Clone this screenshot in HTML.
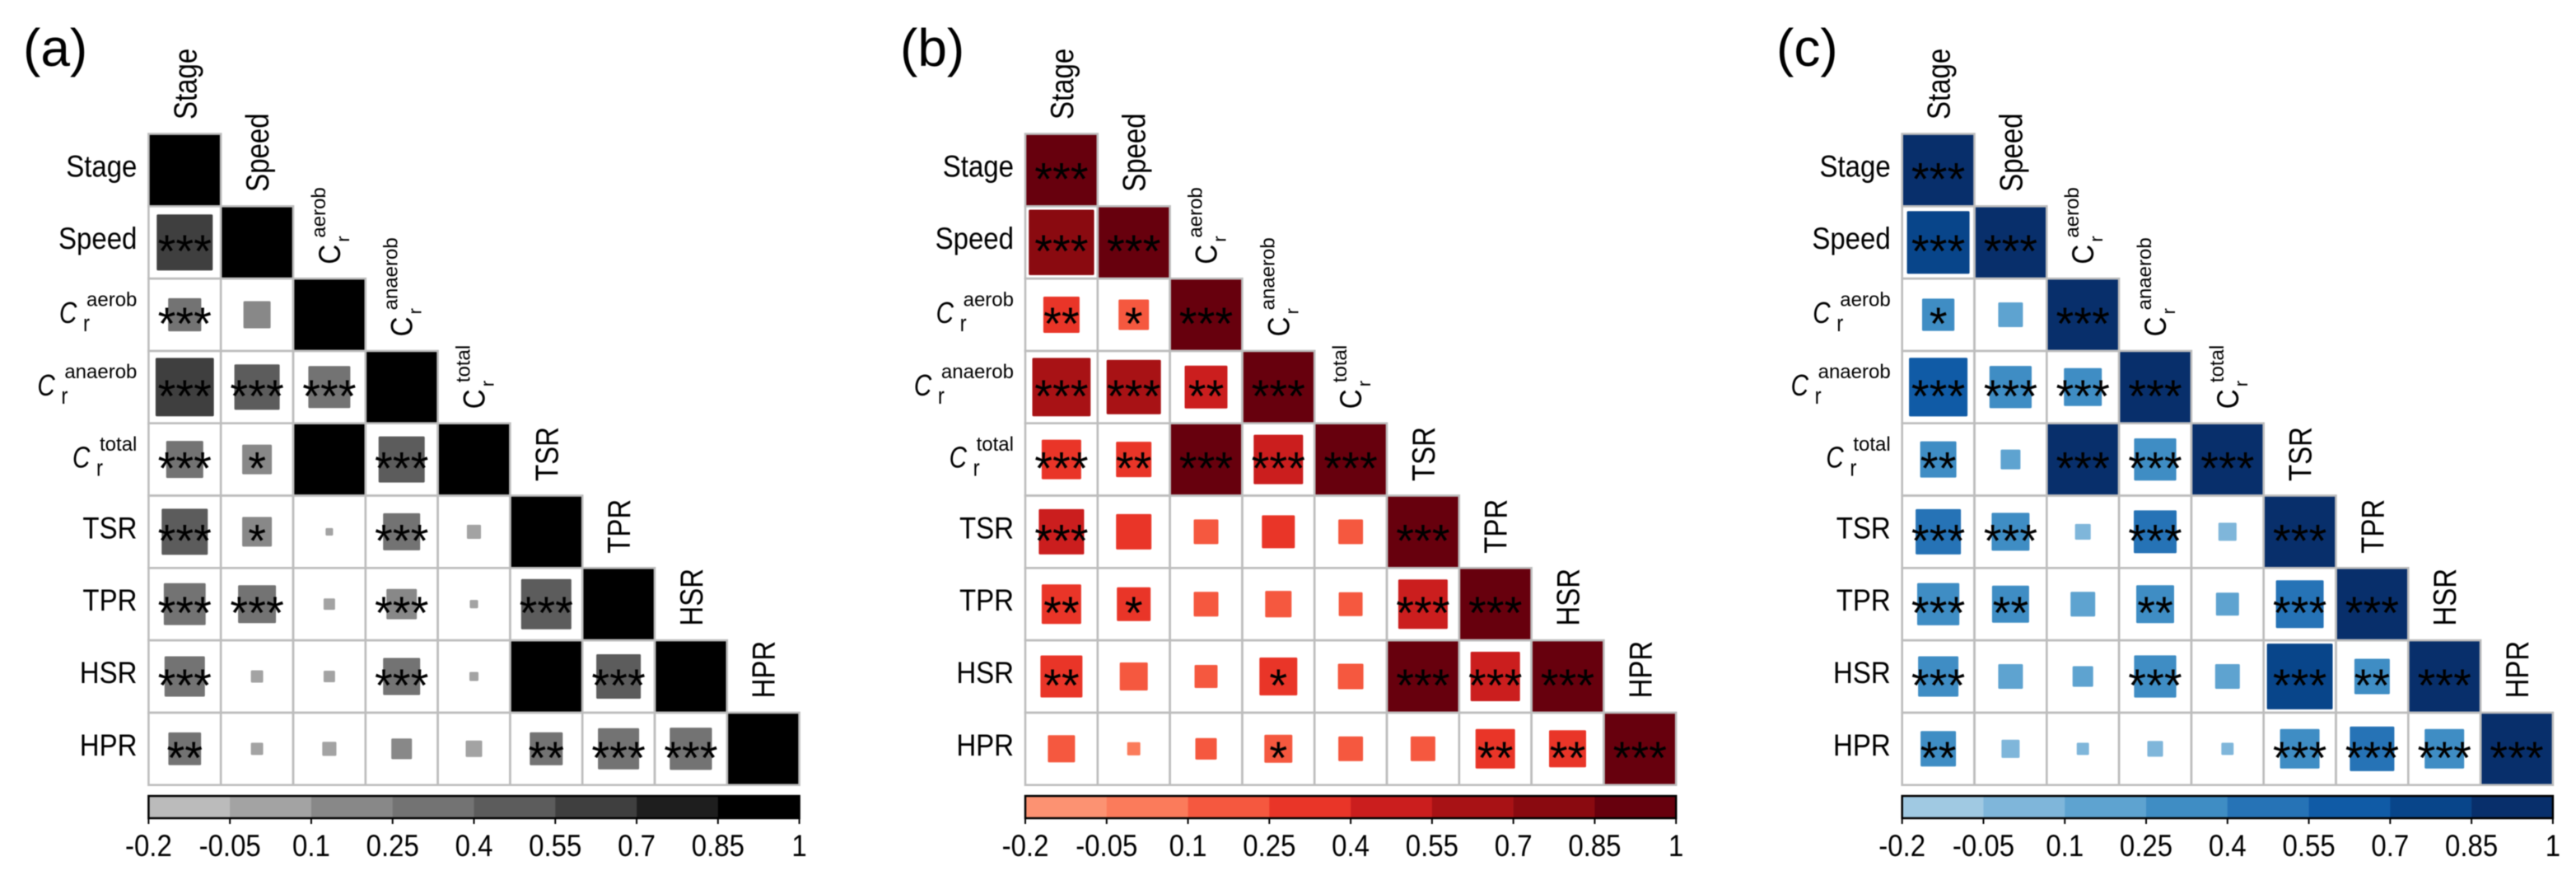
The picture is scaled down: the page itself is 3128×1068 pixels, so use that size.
<!DOCTYPE html>
<html lang="en">
<head>
<meta charset="utf-8">
<title>Correlation matrices</title>
<style>
html,body{margin:0;padding:0;background:#fff;}
#figure{display:block;filter:blur(0.5px);}
text{font-family:"Liberation Sans",Arial,sans-serif;fill:#000;}
</style>
</head>
<body>
<svg id="figure" xmlns="http://www.w3.org/2000/svg" width="3128" height="1068" viewBox="0 0 3128 1068"></svg>
<script>
/* ---------- data ---------- */
const categories = ['Stage','Speed','C','C','C','TSR','TPR','HSR','HPR'];
const subscripts = ['','','r','r','r','','','',''];
const superscripts = ['','','aerob','anaerob','total','','','',''];
const tickLabels = ['-0.2','-0.05','0.1','0.25','0.4','0.55','0.7','0.85','1'];

const corrA = [
 [1],
 [.644,1],
 [.26,.185,1],
 [.69,.447,.392,1],
 [.316,.215,1,.461,1],
 [.461,.215,.02,.316,.06,1],
 [.39,.328,.042,.225,.024,.534,1],
 [.366,.047,.042,.316,.028,1,.433,1],
 [.255,.047,.06,.115,.078,.258,.379,.395,1]
];
const sigA = [
 [''],
 ['***',''],
 ['***','',''],
 ['***','***','***',''],
 ['***','*','','***',''],
 ['***','*','','***','',''],
 ['***','***','','***','','***',''],
 ['***','','','***','','','***',''],
 ['**','','','','','**','***','***','']
];
const corrB = [
 [1],
 [.84,1],
 [.304,.225,1],
 [.69,.611,.405,1],
 [.353,.292,1,.519,1],
 [.447,.292,.157,.258,.157,1],
 [.353,.269,.157,.176,.148,.519,1],
 [.392,.195,.139,.328,.166,1,.519,1],
 [.185,.053,.123,.195,.157,.157,.353,.316,1]
];
const sigB = [
 ['***'],
 ['***','***'],
 ['**','*','***'],
 ['***','***','**','***'],
 ['***','**','***','***','***'],
 ['***','','','','','***'],
 ['**','*','','','','***','***'],
 ['**','','','*','','***','***','***'],
 ['','','','*','','','**','**','***']
];
const corrC = [
 [1],
 [.78,1],
 [.25,.157,1],
 [.694,.395,.328,1],
 [.304,.107,1,.395,1],
 [.447,.328,.072,.405,.0925,1],
 [.395,.316,.157,.328,.139,.489,1],
 [.366,.157,.115,.395,.157,.849,.292,1],
 [.292,.0925,.047,.072,.047,.353,.433,.353,1]
];
const sigC = [
 ['***'],
 ['***','***'],
 ['*','','***'],
 ['***','***','***','***'],
 ['**','','***','***','***'],
 ['***','***','','***','','***'],
 ['***','**','','**','','***','***'],
 ['***','','','***','','***','**','***'],
 ['**','','','','','***','***','***','***']
];
const paletteA = ['#bbbbbb','#a3a3a3','#888888','#737373','#5c5c5c','#3f3f3f','#1e1e1e','#000000'];
const paletteB = ['#fc9272','#fb7b5b','#f5583f','#e93528','#cb1e1e','#a81215','#8a0a10','#67000d'];
const paletteC = ['#a0c9e2','#7fb6da','#5ea3d0','#3f8dc4','#2673b6','#105ba6','#08458a','#082f6b'];

/* ---------- layout ---------- */
const svg = document.getElementById('figure');
const NS = 'http://www.w3.org/2000/svg';
const CELL = 87.8, TOP = 162.5, BAR_TOP = 966, BAR_BOTTOM = 993, DOMAIN_MIN = -0.2, DOMAIN_MAX = 1;

function mk(tag, attrs, parent, txt){
  const el = document.createElementNS(NS, tag);
  for (const k in attrs) el.setAttribute(k, attrs[k]);
  if (txt !== undefined) el.textContent = txt;
  parent.appendChild(el);
  return el;
}
const sizeScale = r => CELL * Math.pow(Math.abs(r), 0.58);
const binIndex = r => Math.max(0, Math.min(tickLabels.length - 2, Math.floor((r - DOMAIN_MIN) / (DOMAIN_MAX - DOMAIN_MIN) * (tickLabels.length - 1))));
const placed = (x, y, sx, sy) => 'translate(' + x + ',' + y + ') scale(' + sx + ',' + sy + ')';

function drawPanel(key, letter, letterX, left, corr, sig, palette){
  const g = mk('g', {}, svg);
  
  
  const xOf = i => left + CELL * i;
  const yOf = i => TOP + CELL * i;

  const title = mk('text', {x: letterX, y: 80, 'font-size': 64}, g, '(' + letter + ')');
  
  

  /* squares */
  corr.forEach((row, i) => row.forEach((r, j) => {
    const s = Math.min(sizeScale(r), CELL);
    const sq = mk('rect', {x: xOf(j) + CELL/2 - s/2, y: yOf(i) + CELL/2 - s/2, width: s, height: s, rx: 1.5, fill: palette[binIndex(r)]}, g);
    
    
  }));
  /* grid */
  corr.forEach((row, i) => row.forEach((r, j) => {
    const c = mk('rect', {x: xOf(j), y: yOf(i), width: CELL, height: CELL, fill: 'none', stroke: '#bdbdbd', 'stroke-width': 2.6}, g);
    
    
  }));
  /* significance stars */
  sig.forEach((row, i) => row.forEach((t, j) => {
    if (!t) return;
    const st = mk('text', {x: xOf(j) + CELL/2, y: yOf(i) + CELL/2 + 30, 'font-size': 56, 'text-anchor': 'middle'}, g, t);
    
    
  }));

  /* row and column labels */
  categories.forEach((name, i) => {
    const cy = yOf(i) + CELL/2, cx = xOf(i) + CELL/2, right = left - 14;
    const rowG = mk('g', {}, g);
    
    
    const colG = mk('g', {}, g);
    
    
    const colTf = (x, across) => 'translate(' + x + ',' + (yOf(i) - 17.5) + ') rotate(-90) scale(1,' + across + ')';
    if (!superscripts[i]) {
      mk('text', {x: 0, y: 0, 'font-size': 33, 'text-anchor': 'end', transform: placed(right, cy + 8, 1, 1.12)}, rowG, name);
      mk('text', {x: 0, y: 0, 'font-size': 33, transform: colTf(cx + 14, 1.18)}, colG, name);
    } else {
      const sup = mk('text', {x: right, y: cy - 10.7, 'font-size': 24, 'text-anchor': 'end'}, rowG, superscripts[i]);
      const start = right - sup.getComputedTextLength();
      mk('text', {x: 0, y: 0, 'font-size': 24, transform: placed(start - 4, cy + 20, 1, 1.2)}, rowG, subscripts[i]);
      mk('text', {x: 0, y: 0, 'font-size': 36, 'font-style': 'italic', transform: placed(start - 33, cy + 10, 0.82, 1)}, rowG, name);
      mk('text', {x: 0, y: 0, 'font-size': 33, transform: colTf(cx + 13, 1.12)}, colG, name);
      mk('text', {x: 27, y: 0, 'font-size': 22, transform: colTf(cx + 24, 1)}, colG, subscripts[i]);
      mk('text', {x: 32, y: 0, 'font-size': 24, transform: colTf(cx - 5, 1)}, colG, superscripts[i]);
    }
  });

  /* colour bar */
  const barW = CELL * corr.length;
  const barX = v => left + (v / (tickLabels.length - 1)) * barW;
  const barG = mk('g', {}, g);
  
  
  palette.forEach((col, i) => {
    const seg = mk('rect', {x: barX(i), y: BAR_TOP, width: barX(i+1) - barX(i) + 0.3, height: BAR_BOTTOM - BAR_TOP, fill: col}, barG);
    
    
  });
  const frame = mk('rect', {x: left, y: BAR_TOP, width: barW, height: BAR_BOTTOM - BAR_TOP, fill: 'none', stroke: '#000', 'stroke-width': 2.5}, barG);
  
  
  tickLabels.forEach((t, i) => {
    const tick = mk('line', {x1: barX(i), x2: barX(i), y1: BAR_BOTTOM, y2: 1000, stroke: '#000', 'stroke-width': 2}, barG);
    
    
    const lab = mk('text', {x: 0, y: 0, 'font-size': 33, 'text-anchor': 'middle', transform: placed(barX(i), 1039, 1, 1.12)}, barG, t);
    
    
  });
}

drawPanel('a', 'a', 28, 180.4, corrA, sigA, paletteA);
drawPanel('b', 'b', 1093, 1245, corrB, sigB, paletteB);
drawPanel('c', 'c', 2157, 2309.7, corrC, sigC, paletteC);
</script>
</body>
</html>
